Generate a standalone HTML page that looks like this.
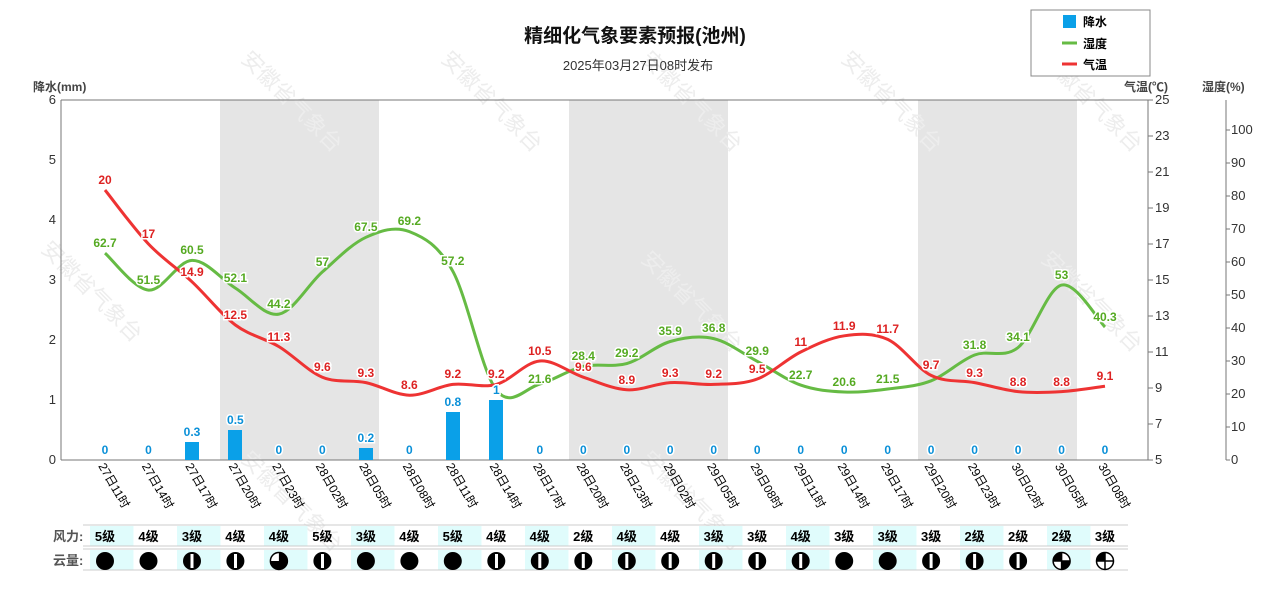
<!DOCTYPE html>
<html><head><meta charset="utf-8"><style>
body{margin:0;background:#fff;}
svg text{font-family:"Liberation Sans","Noto Sans CJK SC",sans-serif;}
.v{font-family:"Liberation Mono","Noto Sans CJK SC",monospace;font-size:12px;font-weight:bold;paint-order:stroke;stroke:#fff;stroke-width:3px;text-anchor:middle}
.t{font-family:"Liberation Mono",monospace;font-size:13px;fill:#333}
.xl{font-size:12px;fill:#000}
.wm{font-size:22px;fill:#ededed;font-family:"Noto Serif CJK SC",serif}
</style></head><body>
<svg width="1280" height="600" xmlns="http://www.w3.org/2000/svg">
<rect x="220" y="100" width="159" height="360" fill="#e5e5e5"/>
<rect x="569" y="100" width="159" height="360" fill="#e5e5e5"/>
<rect x="918" y="100" width="159" height="360" fill="#e5e5e5"/>
<g class="wm">
<text transform="translate(40,250) rotate(45)">安徽省气象台</text>
<text transform="translate(240,60) rotate(45)">安徽省气象台</text>
<text transform="translate(440,60) rotate(45)">安徽省气象台</text>
<text transform="translate(640,60) rotate(45)">安徽省气象台</text>
<text transform="translate(840,60) rotate(45)">安徽省气象台</text>
<text transform="translate(1040,60) rotate(45)">安徽省气象台</text>
<text transform="translate(240,460) rotate(45)">安徽省气象台</text>
<text transform="translate(640,260) rotate(45)">安徽省气象台</text>
<text transform="translate(1040,260) rotate(45)">安徽省气象台</text>
<text transform="translate(640,460) rotate(45)">安徽省气象台</text>
</g>
<text x="635" y="42" text-anchor="middle" font-size="19" font-weight="bold" fill="#111">精细化气象要素预报(池州)</text>
<text x="638" y="70" text-anchor="middle" font-size="13" fill="#333">2025年03月27日08时发布</text>
<rect x="1031" y="10" width="119" height="66" fill="#fff" stroke="#888"/>
<rect x="1063" y="15" width="13" height="13" fill="#0aa0e8"/>
<text x="1083" y="26" font-size="12" font-weight="bold">降水</text>
<line x1="1062" y1="43" x2="1077" y2="43" stroke="#66bb44" stroke-width="3"/>
<text x="1083" y="48" font-size="12" font-weight="bold">湿度</text>
<line x1="1062" y1="64" x2="1077" y2="64" stroke="#ee3333" stroke-width="3"/>
<text x="1083" y="69" font-size="12" font-weight="bold">气温</text>
<text x="33" y="91" font-size="12" font-weight="bold" fill="#444">降水(mm)</text>
<text x="1124" y="91" font-size="12" font-weight="bold" fill="#444">气温(℃)</text>
<text x="1202" y="91" font-size="12" font-weight="bold" fill="#444">湿度(%)</text>
<line x1="61" y1="100" x2="1148" y2="100" stroke="#777"/>
<line x1="61" y1="100" x2="61" y2="460" stroke="#777"/>
<line x1="61" y1="460" x2="1148" y2="460" stroke="#777"/>
<line x1="1148" y1="100" x2="1148" y2="460" stroke="#777"/>
<line x1="1226" y1="100" x2="1226" y2="460" stroke="#777"/>
<g class="t" text-anchor="end">
<text x="56" y="464">0</text><text x="56" y="404">1</text><text x="56" y="344">2</text><text x="56" y="284">3</text><text x="56" y="224">4</text><text x="56" y="164">5</text><text x="56" y="104">6</text>
</g>
<g stroke="#777">
<line x1="1148" y1="460" x2="1153" y2="460"/><line x1="1148" y1="424" x2="1153" y2="424"/><line x1="1148" y1="388" x2="1153" y2="388"/><line x1="1148" y1="352" x2="1153" y2="352"/><line x1="1148" y1="316" x2="1153" y2="316"/><line x1="1148" y1="280" x2="1153" y2="280"/><line x1="1148" y1="244" x2="1153" y2="244"/><line x1="1148" y1="208" x2="1153" y2="208"/><line x1="1148" y1="172" x2="1153" y2="172"/><line x1="1148" y1="136" x2="1153" y2="136"/><line x1="1148" y1="100" x2="1153" y2="100"/>
<line x1="1226" y1="460" x2="1230" y2="460"/><line x1="1226" y1="427" x2="1230" y2="427"/><line x1="1226" y1="394" x2="1230" y2="394"/><line x1="1226" y1="361" x2="1230" y2="361"/><line x1="1226" y1="328" x2="1230" y2="328"/><line x1="1226" y1="295" x2="1230" y2="295"/><line x1="1226" y1="262" x2="1230" y2="262"/><line x1="1226" y1="229" x2="1230" y2="229"/><line x1="1226" y1="196" x2="1230" y2="196"/><line x1="1226" y1="163" x2="1230" y2="163"/><line x1="1226" y1="130" x2="1230" y2="130"/>
</g>
<g class="t">
<text x="1155" y="464">5</text><text x="1155" y="428">7</text><text x="1155" y="392">9</text><text x="1155" y="356">11</text><text x="1155" y="320">13</text><text x="1155" y="284">15</text><text x="1155" y="248">17</text><text x="1155" y="212">19</text><text x="1155" y="176">21</text><text x="1155" y="140">23</text><text x="1155" y="104">25</text>
<text x="1231" y="464">0</text><text x="1231" y="431">10</text><text x="1231" y="398">20</text><text x="1231" y="365">30</text><text x="1231" y="332">40</text><text x="1231" y="299">50</text><text x="1231" y="266">60</text><text x="1231" y="233">70</text><text x="1231" y="200">80</text><text x="1231" y="167">90</text><text x="1231" y="134">100</text>
</g>
<g fill="#0aa0e8">
<rect x="185" y="442" width="14" height="18"/><rect x="228" y="430" width="14" height="30"/><rect x="359" y="448" width="14" height="12"/><rect x="446" y="412" width="14" height="48"/><rect x="489" y="400" width="14" height="60"/>
</g>
<path id="hum" fill="none" stroke="#66bb44" stroke-width="3" d="M105,253.1 L148.5,290.1 L192,260.4 L235.4,288.1 L278.9,314.1 L322.4,271.9 L365.9,237.3 L409.4,231.6 L452.8,271.2 L496.3,390 L539.8,384 L583.3,366.3 L626.8,363.6 L670.2,341.5 L713.7,338.6 L757.2,361.3 L800.7,385.1 L844.2,392 L887.7,389 L931.1,380.8 L974.6,355 L1018.1,347.5 L1061.6,285.1 L1105,327"/>
<path id="tmp" fill="none" stroke="#ee3333" stroke-width="3" d="M105,190 L148.5,244 L192,281.8 L235.4,325 L278.9,346.6 L322.4,377.2 L365.9,382.6 L409.4,395.2 L452.8,384.4 L496.3,384.4 L539.8,361 L583.3,377.2 L626.8,389.8 L670.2,382.6 L713.7,384.4 L757.2,379 L800.7,352 L844.2,335.8 L887.7,339.4 L931.1,375.4 L974.6,382.6 L1018.1,391.6 L1061.6,391.6 L1105,386.2"/>
<g class="v" fill="#55aa22">
<text x="105" y="247">62.7</text><text x="148.5" y="284">51.5</text><text x="192" y="254">60.5</text><text x="235.4" y="282">52.1</text><text x="278.9" y="308">44.2</text><text x="322.4" y="266">57</text><text x="365.9" y="231">67.5</text><text x="409.4" y="225">69.2</text><text x="452.8" y="265">57.2</text><text x="539.8" y="383">21.6</text><text x="583.3" y="360">28.4</text><text x="626.8" y="357">29.2</text><text x="670.2" y="335">35.9</text><text x="713.7" y="332">36.8</text><text x="757.2" y="355">29.9</text><text x="800.7" y="379">22.7</text><text x="844.2" y="386">20.6</text><text x="887.7" y="383">21.5</text><text x="974.6" y="349">31.8</text><text x="1018.1" y="341">34.1</text><text x="1061.6" y="279">53</text><text x="1105" y="321">40.3</text>
</g>
<g class="v" fill="#dd2222">
<text x="105" y="184">20</text><text x="148.5" y="238">17</text><text x="192" y="276">14.9</text><text x="235.4" y="319">12.5</text><text x="278.9" y="341">11.3</text><text x="322.4" y="371">9.6</text><text x="365.9" y="377">9.3</text><text x="409.4" y="389">8.6</text><text x="452.8" y="378">9.2</text><text x="496.3" y="378">9.2</text><text x="539.8" y="355">10.5</text><text x="583.3" y="371">9.6</text><text x="626.8" y="384">8.9</text><text x="670.2" y="377">9.3</text><text x="713.7" y="378">9.2</text><text x="757.2" y="373">9.5</text><text x="800.7" y="346">11</text><text x="844.2" y="330">11.9</text><text x="887.7" y="333">11.7</text><text x="931.1" y="369">9.7</text><text x="974.6" y="377">9.3</text><text x="1018.1" y="386">8.8</text><text x="1061.6" y="386">8.8</text><text x="1105" y="380">9.1</text>
</g>
<g class="v" fill="#0a90d8">
<text x="105" y="454">0</text><text x="148.5" y="454">0</text><text x="192" y="436">0.3</text><text x="235.4" y="424">0.5</text><text x="278.9" y="454">0</text><text x="322.4" y="454">0</text><text x="365.9" y="442">0.2</text><text x="409.4" y="454">0</text><text x="452.8" y="406">0.8</text><text x="496.3" y="394">1</text><text x="539.8" y="454">0</text><text x="583.3" y="454">0</text><text x="626.8" y="454">0</text><text x="670.2" y="454">0</text><text x="713.7" y="454">0</text><text x="757.2" y="454">0</text><text x="800.7" y="454">0</text><text x="844.2" y="454">0</text><text x="887.7" y="454">0</text><text x="931.1" y="454">0</text><text x="974.6" y="454">0</text><text x="1018.1" y="454">0</text><text x="1061.6" y="454">0</text><text x="1105" y="454">0</text>
</g>
<g class="xl">
<text transform="translate(98,466) rotate(60)">27日11时</text>
<text transform="translate(141.5,466) rotate(60)">27日14时</text>
<text transform="translate(185,466) rotate(60)">27日17时</text>
<text transform="translate(228.4,466) rotate(60)">27日20时</text>
<text transform="translate(271.9,466) rotate(60)">27日23时</text>
<text transform="translate(315.4,466) rotate(60)">28日02时</text>
<text transform="translate(358.9,466) rotate(60)">28日05时</text>
<text transform="translate(402.4,466) rotate(60)">28日08时</text>
<text transform="translate(445.8,466) rotate(60)">28日11时</text>
<text transform="translate(489.3,466) rotate(60)">28日14时</text>
<text transform="translate(532.8,466) rotate(60)">28日17时</text>
<text transform="translate(576.3,466) rotate(60)">28日20时</text>
<text transform="translate(619.8,466) rotate(60)">28日23时</text>
<text transform="translate(663.2,466) rotate(60)">29日02时</text>
<text transform="translate(706.7,466) rotate(60)">29日05时</text>
<text transform="translate(750.2,466) rotate(60)">29日08时</text>
<text transform="translate(793.7,466) rotate(60)">29日11时</text>
<text transform="translate(837.2,466) rotate(60)">29日14时</text>
<text transform="translate(880.7,466) rotate(60)">29日17时</text>
<text transform="translate(924.1,466) rotate(60)">29日20时</text>
<text transform="translate(967.6,466) rotate(60)">29日23时</text>
<text transform="translate(1011.1,466) rotate(60)">30日02时</text>
<text transform="translate(1054.6,466) rotate(60)">30日05时</text>
<text transform="translate(1098,466) rotate(60)">30日08时</text>
</g>
<g fill="#e0fcfc">
<rect x="90" y="526" width="43.5" height="20"/><rect x="177" y="526" width="43.5" height="20"/><rect x="264" y="526" width="43.5" height="20"/><rect x="351" y="526" width="43.5" height="20"/><rect x="438" y="526" width="43.5" height="20"/><rect x="525" y="526" width="43.5" height="20"/><rect x="612" y="526" width="43.5" height="20"/><rect x="699" y="526" width="43.5" height="20"/><rect x="786" y="526" width="43.5" height="20"/><rect x="873" y="526" width="43.5" height="20"/><rect x="960" y="526" width="43.5" height="20"/><rect x="1047" y="526" width="43.5" height="20"/>
<rect x="90" y="550" width="43.5" height="20"/><rect x="177" y="550" width="43.5" height="20"/><rect x="264" y="550" width="43.5" height="20"/><rect x="351" y="550" width="43.5" height="20"/><rect x="438" y="550" width="43.5" height="20"/><rect x="525" y="550" width="43.5" height="20"/><rect x="612" y="550" width="43.5" height="20"/><rect x="699" y="550" width="43.5" height="20"/><rect x="786" y="550" width="43.5" height="20"/><rect x="873" y="550" width="43.5" height="20"/><rect x="960" y="550" width="43.5" height="20"/><rect x="1047" y="550" width="43.5" height="20"/>
</g>
<g stroke="#ccc"><line x1="83" y1="525" x2="1128" y2="525"/><line x1="83" y1="546" x2="1128" y2="546"/><line x1="83" y1="549" x2="1128" y2="549"/><line x1="83" y1="570" x2="1128" y2="570"/></g>
<text x="53" y="541" font-size="13" font-weight="bold" fill="#555">风力:</text>
<text x="53" y="565" font-size="13" font-weight="bold" fill="#555">云量:</text>
<g font-size="13" font-weight="bold" fill="#000" text-anchor="middle">
<text x="105" y="541">5级</text><text x="148.5" y="541">4级</text><text x="192" y="541">3级</text><text x="235.4" y="541">4级</text><text x="278.9" y="541">4级</text><text x="322.4" y="541">5级</text><text x="365.9" y="541">3级</text><text x="409.4" y="541">4级</text><text x="452.8" y="541">5级</text><text x="496.3" y="541">4级</text><text x="539.8" y="541">4级</text><text x="583.3" y="541">2级</text><text x="626.8" y="541">4级</text><text x="670.2" y="541">4级</text><text x="713.7" y="541">3级</text><text x="757.2" y="541">3级</text><text x="800.7" y="541">4级</text><text x="844.2" y="541">3级</text><text x="887.7" y="541">3级</text><text x="931.1" y="541">3级</text><text x="974.6" y="541">2级</text><text x="1018.1" y="541">2级</text><text x="1061.6" y="541">2级</text><text x="1105" y="541">3级</text>
</g>
<g fill="#000">
<circle cx="105" cy="561" r="9"/><circle cx="148.5" cy="561" r="9"/><circle cx="365.9" cy="561" r="9"/><circle cx="409.4" cy="561" r="9"/><circle cx="452.8" cy="561" r="9"/><circle cx="844.2" cy="561" r="9"/><circle cx="887.7" cy="561" r="9"/>
<circle cx="192" cy="561" r="9"/><rect x="190.5" y="554" width="3" height="14" fill="#fff"/>
<circle cx="235.4" cy="561" r="9"/><rect x="234" y="554" width="3" height="14" fill="#fff"/>
<circle cx="322.4" cy="561" r="9"/><rect x="321" y="554" width="3" height="14" fill="#fff"/>
<circle cx="496.3" cy="561" r="9"/><rect x="495" y="554" width="3" height="14" fill="#fff"/>
<circle cx="539.8" cy="561" r="9"/><rect x="538.3" y="554" width="3" height="14" fill="#fff"/>
<circle cx="583.3" cy="561" r="9"/><rect x="581.8" y="554" width="3" height="14" fill="#fff"/>
<circle cx="626.8" cy="561" r="9"/><rect x="625.3" y="554" width="3" height="14" fill="#fff"/>
<circle cx="670.2" cy="561" r="9"/><rect x="668.7" y="554" width="3" height="14" fill="#fff"/>
<circle cx="713.7" cy="561" r="9"/><rect x="712.2" y="554" width="3" height="14" fill="#fff"/>
<circle cx="757.2" cy="561" r="9"/><rect x="755.7" y="554" width="3" height="14" fill="#fff"/>
<circle cx="800.7" cy="561" r="9"/><rect x="799.2" y="554" width="3" height="14" fill="#fff"/>
<circle cx="931.1" cy="561" r="9"/><rect x="929.6" y="554" width="3" height="14" fill="#fff"/>
<circle cx="974.6" cy="561" r="9"/><rect x="973.1" y="554" width="3" height="14" fill="#fff"/>
<circle cx="1018.1" cy="561" r="9"/><rect x="1016.6" y="554" width="3" height="14" fill="#fff"/>
</g>
<circle cx="278.9" cy="561" r="8.5" fill="#fff" stroke="#000" stroke-width="1.5"/>
<path d="M278.9,561 L278.9,552.5 A8.5,8.5 0 1 1 270.4,561 Z" fill="#000"/>
<circle cx="1061.6" cy="561" r="8.5" fill="#fff" stroke="#000" stroke-width="1.5"/>
<path d="M1061.6,561 L1061.6,552.5 A8.5,8.5 0 0 0 1053.1,561 Z M1061.6,561 L1070.1,561 A8.5,8.5 0 0 1 1061.6,569.5 Z" fill="#000"/>
<line x1="1053" y1="561" x2="1070" y2="561" stroke="#000" stroke-width="1.5"/><line x1="1061.6" y1="552" x2="1061.6" y2="570" stroke="#000" stroke-width="1.5"/>
<circle cx="1105" cy="561" r="8.5" fill="#fff" stroke="#000" stroke-width="1.5"/>
<path d="M1105,561 L1105,552.5 A8.5,8.5 0 0 0 1096.5,561 Z" fill="#000"/>
<line x1="1096" y1="561" x2="1114" y2="561" stroke="#000" stroke-width="1.5"/><line x1="1105" y1="552" x2="1105" y2="570" stroke="#000" stroke-width="1.5"/>
</svg>
<script>
['hum','tmp'].forEach(function(id){
var el=document.getElementById(id);
var p=el.getAttribute('d').replace(/[ML]/g,'').trim().split(/\s+/).map(function(s){return s.split(',').map(Number);});
var d='M'+p[0][0]+','+p[0][1];
for(var i=0;i+1<p.length;i++){
var p0=p[i-1]||p[i],p1=p[i],p2=p[i+1],p3=p[i+2]||p2,k=6;
d+=' C'+(p1[0]+(p2[0]-p0[0])/k)+','+(p1[1]+(p2[1]-p0[1])/k)+' '+(p2[0]-(p3[0]-p1[0])/k)+','+(p2[1]-(p3[1]-p1[1])/k)+' '+p2[0]+','+p2[1];
}
el.setAttribute('d',d);
});
</script>
</body></html>
